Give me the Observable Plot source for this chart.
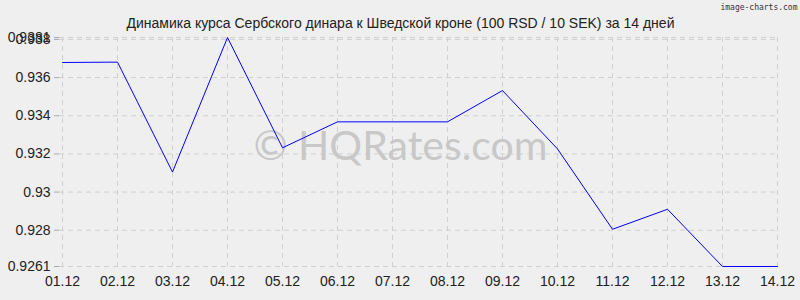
<!DOCTYPE html>
<html><head><meta charset="utf-8">
<script src="https://cdn.jsdelivr.net/npm/d3@7"></script>
<script src="https://cdn.jsdelivr.net/npm/@observablehq/plot@0.6"></script>
<style>
html,body{margin:0;padding:0;background:#efefef;}
#chart{position:relative;width:800px;height:300px;}
</style>
</head><body><div id="chart"></div>
<script>
const dates = ["01.12","02.12","03.12","04.12","05.12","06.12","07.12","08.12","09.12","10.12","11.12","12.12","13.12","14.12"];
const rates = [0.93679,0.93681,0.93105,0.9381,0.93232,0.93368,0.93368,0.93368,0.93532,0.93226,0.92805,0.9291,0.9261,0.9261];
const yTicks = [0.9261,0.928,0.93,0.932,0.934,0.936,0.938,0.9381];
const title = "Динамика курса Сербского динара к Шведской кроне (100 RSD / 10 SEK) за 14 дней";

const data = dates.map((d,i)=>({date:d, rate:rates[i]}));

const plot = Plot.plot({
  width: 800, height: 300,
  marginLeft: 59, marginRight: 21, marginTop: 37, marginBottom: 34,
  style: {background:"#efefef", fontFamily:"'Liberation Sans', Arial, sans-serif", fontSize:"14px", color:"#222"},
  x: {type:"point", domain: dates, padding:0, label:null},
  y: {domain:[0.9261,0.9381], label:null},
  marks: [
    Plot.gridY(yTicks, {stroke:"#d0d0d0", strokeOpacity:1, strokeDasharray:"5,4"}),
    Plot.gridX(dates, {stroke:"#d0d0d0", strokeOpacity:1, strokeDasharray:"5,4"}),
    Plot.axisY(yTicks, {tickFormat: d=>String(d), tickSize:5, tickPadding:4, stroke:"#aaa", fontSize:14, fill:"#222"}),
    Plot.axisX(dates, {tickSize:0, tickPadding:10, fontSize:14, fill:"#222"}),
    Plot.text([0], {frameAnchor:"middle", text:()=>"© HQRates.com", fontSize:41, fill:"#c8c8c8", fontFamily:"Lato, sans-serif", dx:-19, dy:-5}),
    Plot.line(data, {x:"date", y:"rate", stroke:"#0000ff", strokeWidth:1}),
    Plot.text([0], {frameAnchor:"top", text:()=>title, fontSize:14, fill:"#222", dx:-19, dy:-19}),
    Plot.text([0], {frameAnchor:"top-right", text:()=>"image-charts.com", fontSize:8, fill:"#333", fontFamily:"'DejaVu Sans Mono', monospace", dx:18, dy:-33})
  ]
});
document.getElementById("chart").appendChild(plot);
</script></body></html>
